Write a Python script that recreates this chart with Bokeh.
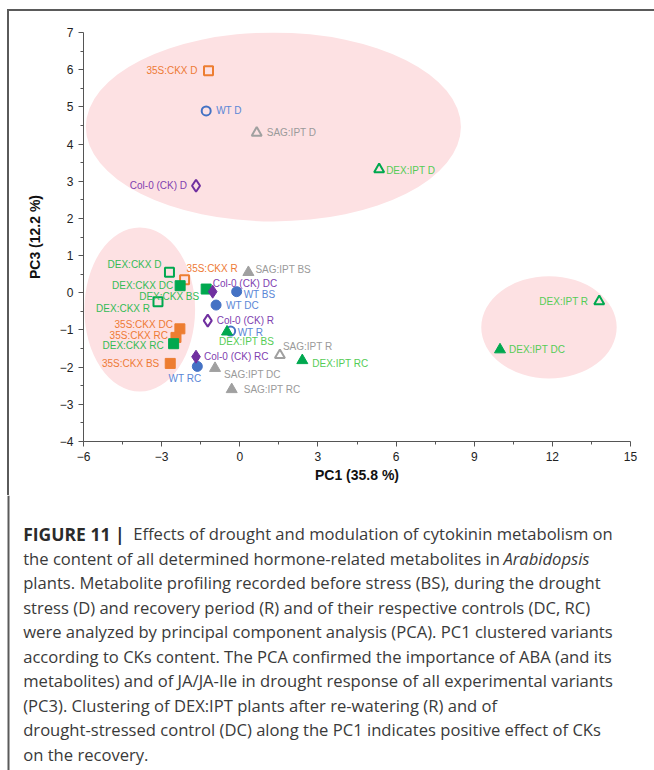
from bokeh.plotting import figure
from bokeh.models import ColumnDataSource, Range1d, FixedTicker
from bokeh.embed import file_html
from bokeh.resources import INLINE
from bokeh.core.properties import value

# ---------------- data ----------------
series_names = ["35S:CKX", "DEX:CKX", "WT", "Col-0 (CK)", "SAG:IPT", "DEX:IPT"]

cond_35S = ["D", "R", "BS", "DC", "RC"]
pc1_35S = [-1.2, -2.12, -2.67, -2.3, -2.45]
pc3_35S = [5.97, 0.35, -1.9, -0.97, -1.2]

cond_DEXCKX = ["D", "R", "BS", "DC", "RC"]
pc1_DEXCKX = [-2.7, -3.14, -1.29, -2.29, -2.54]
pc3_DEXCKX = [0.55, -0.24, 0.1, 0.19, -1.37]

cond_WT = ["D", "R", "BS", "DC", "RC"]
pc1_WT = [-1.29, -0.35, -0.12, -0.91, -1.63]
pc3_WT = [4.89, -1.03, 0.03, -0.33, -1.98]

cond_COL = ["D", "R", "DC", "RC"]
pc1_COL = [-1.68, -1.23, -1.04, -1.68]
pc3_COL = [2.88, -0.75, 0.03, -1.72]

cond_SAG = ["D", "R", "BS", "DC", "RC"]
pc1_SAG = [0.65, 1.54, 0.33, -0.95, -0.31]
pc3_SAG = [4.3, -1.68, 0.55, -2.03, -2.6]

cond_DEXIPT = ["D", "R", "BS", "DC", "RC"]
pc1_DEXIPT = [5.35, 13.8, -0.49, 9.99, 2.4]
pc3_DEXIPT = [3.32, -0.23, -1.05, -1.53, -1.82]

# cluster ellipses (centre PC1, centre PC3, width, height)
cluster_pc1 = [1.29, -3.84, 11.87]
cluster_pc3 = [4.46, -0.45, -0.93]
cluster_w = [14.4, 4.25, 5.2]
cluster_h = [5.08, 4.41, 2.75]

x_ticks = [-6, -3, 0, 3, 6, 9, 12, 15]
y_ticks = [-4, -3, -2, -1, 0, 1, 2, 3, 4, 5, 6, 7]

x_title = "PC1 (35.8 %)"
y_title = "PC3 (12.2 %)"

caption_bold = "FIGURE 11 |"
caption_lines = [
    "Effects of drought and modulation of cytokinin metabolism on",
    "the content of all determined hormone-related metabolites in",
    "plants. Metabolite profiling recorded before stress (BS), during the drought",
    "stress (D) and recovery period (R) and of their respective controls (DC, RC)",
    "were analyzed by principal component analysis (PCA). PC1 clustered variants",
    "according to CKs content. The PCA confirmed the importance of ABA (and its",
    "metabolites) and of JA/JA-Ile in drought response of all experimental variants",
    "(PC3). Clustering of DEX:IPT plants after re-watering (R) and of",
    "drought-stressed control (DC) along the PC1 indicates positive effect of CKs",
    "on the recovery.",
]
caption_italic = "Arabidopsis"

series_data = {
    "35S:CKX": (cond_35S, pc1_35S, pc3_35S),
    "DEX:CKX": (cond_DEXCKX, pc1_DEXCKX, pc3_DEXCKX),
    "WT": (cond_WT, pc1_WT, pc3_WT),
    "Col-0 (CK)": (cond_COL, pc1_COL, pc3_COL),
    "SAG:IPT": (cond_SAG, pc1_SAG, pc3_SAG),
    "DEX:IPT": (cond_DEXIPT, pc1_DEXIPT, pc3_DEXIPT),
}

# ---------------- styles ----------------
styles = {
    "35S:CKX": dict(marker="square", color="#ED7D31", label="#EE7A35", size=10),
    "DEX:CKX": dict(marker="square", color="#00A84F", label="#33BB55", size=10),
    "WT": dict(marker="circle", color="#4472C4", label="#5A86D6", size=10),
    "Col-0 (CK)": dict(marker="diamond", color="#7030A0", label="#8040B0", size=13),
    "SAG:IPT": dict(marker="triangle", color="#A0A0A0", label="#9A9A9A", size=11),
    "DEX:IPT": dict(marker="triangle", color="#00A84F", label="#55CC55", size=11),
}
open_conditions = {"D", "R"}

# label placement (screen px: dx, dy, align)
label_place = {
    ("35S:CKX", "D"): (-11, 0, "right"),
    ("35S:CKX", "R"): (2, -11, "left"),
    ("35S:CKX", "BS"): (-11, 0, "right"),
    ("35S:CKX", "DC"): (-7, -4, "right"),
    ("35S:CKX", "RC"): (-8, -2, "right"),
    ("DEX:CKX", "D"): (-8, -8, "right"),
    ("DEX:CKX", "R"): (-8, 7, "right"),
    ("DEX:CKX", "BS"): (-7, 7, "right"),
    ("DEX:CKX", "DC"): (-7, 0, "right"),
    ("DEX:CKX", "RC"): (-10, 2, "right"),
    ("WT", "D"): (10, 0, "left"),
    ("WT", "R"): (7, 1, "left"),
    ("WT", "BS"): (7, 3, "left"),
    ("WT", "DC"): (10, 0, "left"),
    ("WT", "RC"): (4, 12, "right"),
    ("Col-0 (CK)", "D"): (-9, 0, "right"),
    ("Col-0 (CK)", "R"): (9, 0, "left"),
    ("Col-0 (CK)", "DC"): (0, -8, "left"),
    ("Col-0 (CK)", "RC"): (8, 0, "left"),
    ("SAG:IPT", "D"): (10, 0, "left"),
    ("SAG:IPT", "BS"): (7, -3, "left"),
    ("SAG:IPT", "R"): (3, -9, "left"),
    ("SAG:IPT", "DC"): (9, 6, "left"),
    ("SAG:IPT", "RC"): (12, 0, "left"),
    ("DEX:IPT", "D"): (7, 1, "left"),
    ("DEX:IPT", "R"): (-11, 0, "right"),
    ("DEX:IPT", "BS"): (-8, 10, "left"),
    ("DEX:IPT", "DC"): (9, 0, "left"),
    ("DEX:IPT", "RC"): (10, 3, "left"),
}

FONT = "Liberation Sans"
CAP_FONT = "Open Sans"
LINE_COL = "#5a5a5a"

W = 654
H1 = 495          # chart canvas height
H2 = 770 - H1     # caption canvas height
FL, FR, FT, FB = 83, 630, 32, 441   # frame edges in chart canvas px

# ---------------- chart ----------------
p = figure(width=W, height=H1, x_range=Range1d(-6, 15), y_range=Range1d(-4, 7),
           output_backend="svg", toolbar_location=None,
           min_border_left=FL, min_border_right=W - FR,
           min_border_top=FT, min_border_bottom=H1 - FB)
p.xgrid.visible = False
p.ygrid.visible = False
p.outline_line_color = None
p.background_fill_color = "white"
p.border_fill_color = None
# thin panel frame (top and left rules) drawn behind the transparent border area
p.styles = {
    "background-color": "white",
    "background-image": (f"linear-gradient({LINE_COL},{LINE_COL}), "
                         f"linear-gradient({LINE_COL},{LINE_COL})"),
    "background-size": "2px 100%, 100% 2px",
    "background-position": "7px 9px, 7px 9px",
    "background-repeat": "no-repeat, no-repeat",
}

p.ellipse(x=cluster_pc1, y=cluster_pc3, width=cluster_w, height=cluster_h,
          fill_color="#FDE1E3", line_color=None)

for name in series_names:
    conds, xs, ys = series_data[name]
    st = styles[name]
    for filled in (True, False):
        idx = [i for i, c in enumerate(conds) if (c not in open_conditions) == filled]
        if not idx:
            continue
        src = ColumnDataSource(dict(x=[xs[i] for i in idx], y=[ys[i] for i in idx]))
        if filled:
            p.scatter("x", "y", source=src, marker=st["marker"], size=st["size"],
                      fill_color=st["color"], line_color=st["color"], line_width=1)
        else:
            p.scatter("x", "y", source=src, marker=st["marker"], size=st["size"] - 1,
                      fill_color=None, line_color=st["color"], line_width=2)

for name in series_names:
    conds, xs, ys = series_data[name]
    st = styles[name]
    for align in ("left", "right"):
        idx = [i for i, c in enumerate(conds) if label_place[(name, c)][2] == align]
        if not idx:
            continue
        src = ColumnDataSource(dict(
            x=[xs[i] for i in idx], y=[ys[i] for i in idx],
            t=[name + " " + conds[i] for i in idx],
            dx=[label_place[(name, conds[i])][0] for i in idx],
            dy=[label_place[(name, conds[i])][1] for i in idx],
        ))
        p.text("x", "y", text="t", source=src, x_offset="dx", y_offset="dy",
               text_align=align, text_baseline="middle", text_color=st["label"],
               text_font=value(FONT), text_font_size="10px")

for ax in (p.xaxis, p.yaxis):
    ax.axis_line_color = "#555555"
    ax.major_tick_line_color = "#555555"
    ax.minor_tick_line_color = "#555555"
    ax.major_tick_out = 5
    ax.major_tick_in = 0
    ax.minor_tick_out = 3
    ax.minor_tick_in = 0
    ax.major_label_text_font = FONT
    ax.major_label_text_font_size = "12px"
    ax.major_label_text_color = "#222222"
    ax.axis_label_text_font = FONT
    ax.axis_label_text_font_size = "14px"
    ax.axis_label_text_font_style = "bold"
    ax.axis_label_text_color = "#111111"

p.xaxis.ticker = FixedTicker(ticks=x_ticks,
                             minor_ticks=[t + 1.5 for t in x_ticks[:-1]])
p.yaxis.ticker = FixedTicker(ticks=y_ticks,
                             minor_ticks=[t + 0.5 for t in y_ticks[:-1]])
p.xaxis.axis_label = x_title
p.yaxis.axis_label = y_title
p.xaxis.major_label_standoff = 5
p.yaxis.major_label_standoff = 5
p.xaxis.axis_label_standoff = 3
p.yaxis.axis_label_standoff = 14

# ---------------- caption (canvas px coordinates) ----------------
cap = figure(width=W, height=H2, x_range=Range1d(0, W), y_range=Range1d(H2, 0),
             output_backend="svg", toolbar_location=None,
             x_axis_location=None, y_axis_location=None, min_border=0)
cap.xgrid.visible = False
cap.ygrid.visible = False
cap.outline_line_color = None
cap.background_fill_color = "white"
cap.border_fill_color = "white"

cap.quad(left=[7], right=[9], top=[0], bottom=[H2], fill_color=LINE_COL, line_color=None)

base0 = 533.0 - H1
step = 24.5
cap_x = 22.7
CAP_SIZE = "16.6px"
cap.text(x=[cap_x], y=[base0], text=[caption_bold], text_font=value(CAP_FONT),
         text_font_size="17.5px", text_font_style="bold", text_color="#2b2b2b",
         text_baseline="alphabetic")
cap.text(x=[132.7], y=[base0], text=[caption_lines[0]], text_font=value(CAP_FONT),
         text_font_size=CAP_SIZE, text_color="#3a3a3a", text_baseline="alphabetic")
cap.text(x=[cap_x] * 9, y=[base0 + step * i for i in range(1, 10)], text=caption_lines[1:],
         text_font=value(CAP_FONT), text_font_size=CAP_SIZE, text_color="#3a3a3a",
         text_baseline="alphabetic")
cap.text(x=[503], y=[base0 + step], text=[caption_italic], text_font=value(CAP_FONT),
         text_font_size=CAP_SIZE, text_font_style="italic", text_color="#3a3a3a",
         text_baseline="alphabetic")

open("out.html", "w").write(file_html([p, cap], INLINE))
